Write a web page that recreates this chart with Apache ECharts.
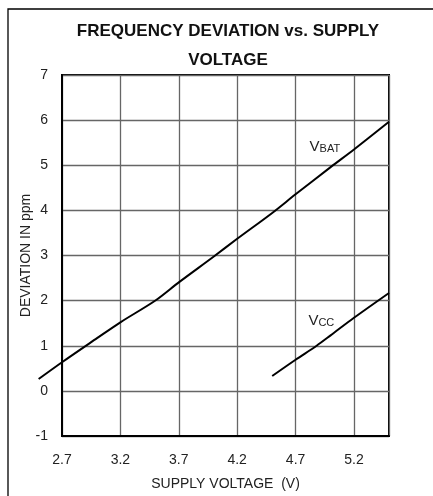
<!DOCTYPE html>
<html>
<head>
<meta charset="utf-8">
<script src="https://cdn.jsdelivr.net/npm/echarts@6/dist/echarts.min.js"></script>
<style>
  html, body { margin: 0; padding: 0; background: #fff; }
  #chart { width: 433px; height: 496px; }
</style>
</head>
<body>
<div id="chart"></div>
<script>
  // values
  var xStart = 2.7;
  var xLead = 2.5;   // VBAT curve starts left of the plot frame
  var xTicks = [2.7, 3.2, 3.7, 4.2, 4.7, 5.2];
  var yTicks = [-1, 0, 1, 2, 3, 4, 5, 6, 7];

  var vbatVolts = [2.5, 2.7, 3.0, 3.2, 3.5, 3.7, 4.0, 4.2, 4.5, 4.7, 5.0, 5.2, 5.5];
  var vbatPpm = [0.30, 0.67, 1.20, 1.55, 2.03, 2.43, 3.0, 3.39, 3.96, 4.37, 4.97, 5.36, 5.97];

  var vccVolts = [4.5, 4.7, 4.88, 5.0, 5.2, 5.5];
  var vccPpm = [0.33, 0.69, 1.0, 1.23, 1.62, 2.17];

  var fontFam = "'Liberation Sans', Arial, sans-serif";

  /* x axis is shifted so ticks start at 2.7 */
  function shift(v) {
    return Math.round((v - xStart) * 100) / 100;
  }

  function pairs(xs, ys) {
    var out = [];
    xs.forEach(function (x, i) {
      out.push([shift(x), ys[i]]);
    });
    return out;
  }

  var gridLeft = 62, gridRight = 44;
  var plotW = 433 - gridLeft - gridRight;
  var xMax = shift(5.5);
  /* second, wider grid with the same scale so VBAT can run past the left frame */
  var leadLeft = gridLeft + shift(xLead) * plotW / xMax;

  function label(sub) {
    return {
      show: true,
      position: [0, 0],
      align: 'left',
      verticalAlign: 'middle',
      formatter: '{v|V}{s|' + sub + '}',
      rich: {
        v: {fontFamily: fontFam, fontSize: 15, color: '#222', verticalAlign: 'bottom'},
        s: {fontFamily: fontFam, fontSize: 11, color: '#222', verticalAlign: 'bottom'}
      }
    };
  }

  var chart = echarts.init(document.getElementById('chart'));

  chart.setOption({
    animation: false,
    backgroundColor: '#fff',
    title: {
      text: 'FREQUENCY DEVIATION vs. SUPPLY\nVOLTAGE',
      left: 223,
      top: 12,
      textAlign: 'center',
      textStyle: {
        fontFamily: fontFam,
        fontSize: 17,
        fontWeight: 'bold',
        color: '#111',
        lineHeight: 29
      }
    },
    graphic: [{
      type: 'rect',
      shape: {x: 8, y: 9, width: 700, height: 700},
      style: {fill: 'none', stroke: '#000', lineWidth: 1.3},
      silent: true
    }],
    grid: [{
      left: gridLeft,
      top: 75,
      right: gridRight,
      bottom: 58,
      show: true,
      borderColor: '#000',
      borderWidth: 2
    }, {
      left: leadLeft,
      top: 75,
      right: gridRight,
      bottom: 58
    }],
    xAxis: [{
      type: 'value',
      min: 0,
      max: xMax,
      interval: 0.5,
      name: 'SUPPLY VOLTAGE  (V)',
      nameLocation: 'middle',
      nameGap: 41,
      nameTextStyle: {fontFamily: fontFam, fontSize: 14, color: '#222'},
      axisLine: {onZero: false, lineStyle: {color: '#000', width: 2}},
      axisTick: {show: false},
      axisLabel: {
        fontFamily: fontFam,
        fontSize: 14,
        color: '#222',
        margin: 17,
        formatter: function (v) {
          var real = Math.round((v + xStart) * 10) / 10;
          return xTicks.indexOf(real) >= 0 ? real.toFixed(1) : '';
        }
      },
      splitLine: {lineStyle: {color: '#666', width: 1.3}}
    }, {
      type: 'value',
      gridIndex: 1,
      min: shift(xLead),
      max: xMax,
      show: false
    }],
    yAxis: [{
      type: 'value',
      min: yTicks[0],
      max: yTicks[yTicks.length - 1],
      interval: 1,
      name: 'DEVIATION IN ppm',
      nameLocation: 'middle',
      nameGap: 29,
      nameMoveOverlap: false,
      nameTextStyle: {fontFamily: fontFam, fontSize: 14, color: '#222'},
      axisLine: {onZero: false, lineStyle: {color: '#000', width: 2}},
      axisTick: {show: false},
      axisLabel: {fontFamily: fontFam, fontSize: 14, color: '#222', margin: 14},
      splitLine: {lineStyle: {color: '#666', width: 1.3}}
    }, {
      type: 'value',
      gridIndex: 1,
      min: yTicks[0],
      max: yTicks[yTicks.length - 1],
      show: false
    }],
    series: [{
      type: 'line',
      name: 'VBAT',
      xAxisIndex: 1,
      yAxisIndex: 1,
      data: pairs(vbatVolts, vbatPpm),
      showSymbol: false,
      smooth: 0.3,
      z: 3,
      lineStyle: {color: '#000', width: 2},
      markPoint: {
        symbol: 'circle',
        symbolSize: 0,
        label: label('BAT'),
        data: [{coord: [shift(4.82), 5.42]}]
      }
    }, {
      type: 'line',
      name: 'VCC',
      data: pairs(vccVolts, vccPpm),
      showSymbol: false,
      smooth: 0.3,
      z: 3,
      lineStyle: {color: '#000', width: 2},
      markPoint: {
        symbol: 'circle',
        symbolSize: 0,
        label: label('CC'),
        data: [{coord: [shift(4.81), 1.56]}]
      }
    }]
  });
</script>
</body>
</html>
